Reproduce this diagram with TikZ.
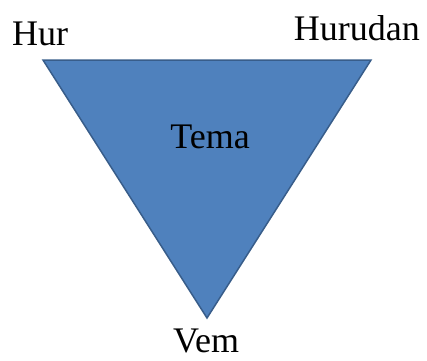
\documentclass[tikz,border=0pt]{standalone}
\usepackage{fontspec}
\setmainfont{Liberation Serif}
\definecolor{trifill}{RGB}{79,129,189}
\definecolor{triline}{RGB}{56,93,138}
\usetikzlibrary{positioning}

\begin{document}
\begin{tikzpicture}[x=1pt, y=1pt]
    \useasboundingbox (0,0) rectangle (427,360);
    \tikzset{lbl/.style={font=\fontsize{36}{40}\selectfont, inner sep=0pt, anchor=base}}

    % Corners of the triangle
    \coordinate (hur) at (43,300);
    \coordinate (hurudan) at (371,300);
    \coordinate (vem) at (207,42);

    % Triangle
    \draw[fill=trifill, draw=triline, line width=1.5pt, line join=miter] (hur) -- (hurudan) -- (vem) -- cycle;

    % Labels
    \node[lbl, anchor=base west] (hurlbl) at (12,315) {Hur};
    \node[lbl, anchor=base east] (hurudanlbl) at (420,320) {Hurudan};
    \node[lbl] (tema) at (210,212) {Tema};
    \node[lbl, text depth=0pt] (vemlbl) at (206,8) {Vem};
\end{tikzpicture}
\end{document}
